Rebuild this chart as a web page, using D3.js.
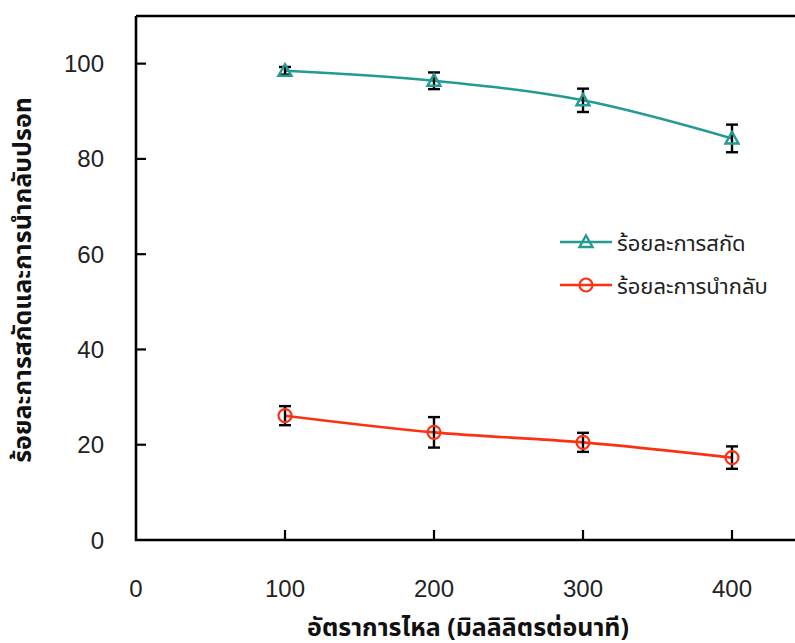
<!DOCTYPE html>
<html>
<head>
<meta charset="utf-8">
<script src="https://cdn.jsdelivr.net/npm/d3@7"></script>
<style>
  html, body { margin: 0; padding: 0; background: #fff; }
  svg { display: block; }
  .tick-label { font-family: "Liberation Sans Narrow", "Liberation Sans", sans-serif; font-size: 24px; fill: #222; }
  .legend-text { font-family: "Noto Sans", "Noto Sans Thai", sans-serif; font-size: 22px; fill: #222; }
  .axis-title { font-family: "Noto Sans", "Noto Sans Thai", sans-serif; font-size: 25px; font-weight: bold; fill: #111; }
</style>
</head>
<body>
<script>
// Flow rate (mL/min) and measured percentages with error margins
const flowRates = [100, 200, 300, 400];
const extraction = [98.5, 96.4, 92.3, 84.3];
const extractionErr = [0.8, 1.75, 2.45, 2.9];
const recovery = [26.1, 22.6, 20.5, 17.3];
const recoveryErr = [2.0, 3.2, 2.0, 2.35];
const xTicks = [0, 100, 200, 300, 400];
const yTicks = [0, 20, 40, 60, 80, 100];
const seriesNames = ["ร้อยละการสกัด", "ร้อยละการนำกลับ"];
const xTitle = "อัตราการไหล (มิลลิลิตรต่อนาที)";
const yTitle = "ร้อยละการสกัดและการนำกลับปรอท";

const W = 795, H = 643;
const teal = "#259A92", red = "#FA3212";

const svg = d3.select("body").append("svg").attr("width", W).attr("height", H);

const x = d3.scaleLinear().domain([0, 500]).range([136, 881]);
const y = d3.scaleLinear().domain([0, 110]).range([540, 16]);

// Frame: left axis, bottom axis and top border
const frame = svg.append("g").attr("stroke", "#000").attr("stroke-width", 2.6).attr("fill", "none");
frame.append("path").attr("d", `M${x(0)},${y(110)} L${x(0)},${y(0)} L${W + 5},${y(0)}`);
frame.append("line").attr("x1", x(0)).attr("x2", W + 5).attr("y1", y(110)).attr("y2", y(110));

// Inward ticks on both axes
svg.append("g").selectAll("line").data(yTicks.filter(d => d > 0)).join("line")
  .attr("x1", x(0)).attr("x2", x(0) + 10).attr("y1", d => y(d)).attr("y2", d => y(d))
  .attr("stroke", "#000").attr("stroke-width", 2.2);
svg.append("g").selectAll("line").data(xTicks.filter(d => d > 0)).join("line")
  .attr("x1", d => x(d)).attr("x2", d => x(d)).attr("y1", y(0)).attr("y2", y(0) - 10)
  .attr("stroke", "#000").attr("stroke-width", 2.2);

// Tick labels
svg.append("g").selectAll("text").data(yTicks).join("text")
  .attr("class", "tick-label").attr("x", 104).attr("y", d => y(d))
  .attr("text-anchor", "end").attr("dominant-baseline", "central").text(d => d);
svg.append("g").selectAll("text").data(xTicks).join("text")
  .attr("class", "tick-label").attr("x", d => x(d)).attr("y", 588)
  .attr("text-anchor", "middle").attr("dominant-baseline", "central").text(d => d);

// Axis titles
svg.append("text").attr("class", "axis-title")
  .attr("x", 468).attr("y", 636).attr("text-anchor", "middle").text(xTitle);
svg.append("text").attr("class", "axis-title")
  .attr("transform", `translate(31,280) rotate(-90)`)
  .attr("text-anchor", "middle").text(yTitle);

const line = d3.line().x(d => x(d[0])).y(d => y(d[1])).curve(d3.curveCatmullRom.alpha(0));

function drawSeries(vals, errs, color, marker) {
  const pts = flowRates.map((f, i) => [f, vals[i], errs[i]]);
  const g = svg.append("g");
  g.append("path").datum(pts).attr("d", line)
    .attr("fill", "none").attr("stroke", color).attr("stroke-width", 2.6);
  // error bars
  const eb = g.append("g").attr("stroke", "#000").attr("stroke-width", 2.4);
  pts.forEach(p => {
    const cx = x(p[0]), t = y(p[1] + p[2]), b = y(p[1] - p[2]);
    eb.append("line").attr("x1", cx).attr("x2", cx).attr("y1", t).attr("y2", b);
    eb.append("line").attr("x1", cx - 6).attr("x2", cx + 6).attr("y1", t).attr("y2", t);
    eb.append("line").attr("x1", cx - 6).attr("x2", cx + 6).attr("y1", b).attr("y2", b);
  });
  pts.forEach(p => marker(g, x(p[0]), y(p[1])));
}

function triangle(g, cx, cy) {
  g.append("path")
    .attr("d", `M${cx},${cy - 6.5} L${cx + 6.5},${cy + 5} L${cx - 6.5},${cy + 5} Z`)
    .attr("fill", "none").attr("stroke", teal).attr("stroke-width", 2.4);
}
function circle(g, cx, cy) {
  g.append("circle").attr("cx", cx).attr("cy", cy).attr("r", 6.5)
    .attr("fill", "none").attr("stroke", red).attr("stroke-width", 2.2);
}

drawSeries(extraction, extractionErr, teal, triangle);
drawSeries(recovery, recoveryErr, red, circle);

// Legend
const legend = [
  { name: seriesNames[0], color: teal, marker: triangle, yy: 242 },
  { name: seriesNames[1], color: red, marker: circle, yy: 285 }
];
legend.forEach(l => {
  svg.append("line").attr("x1", 560).attr("x2", 612).attr("y1", l.yy).attr("y2", l.yy)
    .attr("stroke", l.color).attr("stroke-width", 2.6);
  l.marker(svg, 586, l.yy);
  svg.append("text").attr("class", "legend-text").attr("x", 617).attr("y", l.yy)
    .attr("dominant-baseline", "central").text(l.name);
});
</script>
</body>
</html>
